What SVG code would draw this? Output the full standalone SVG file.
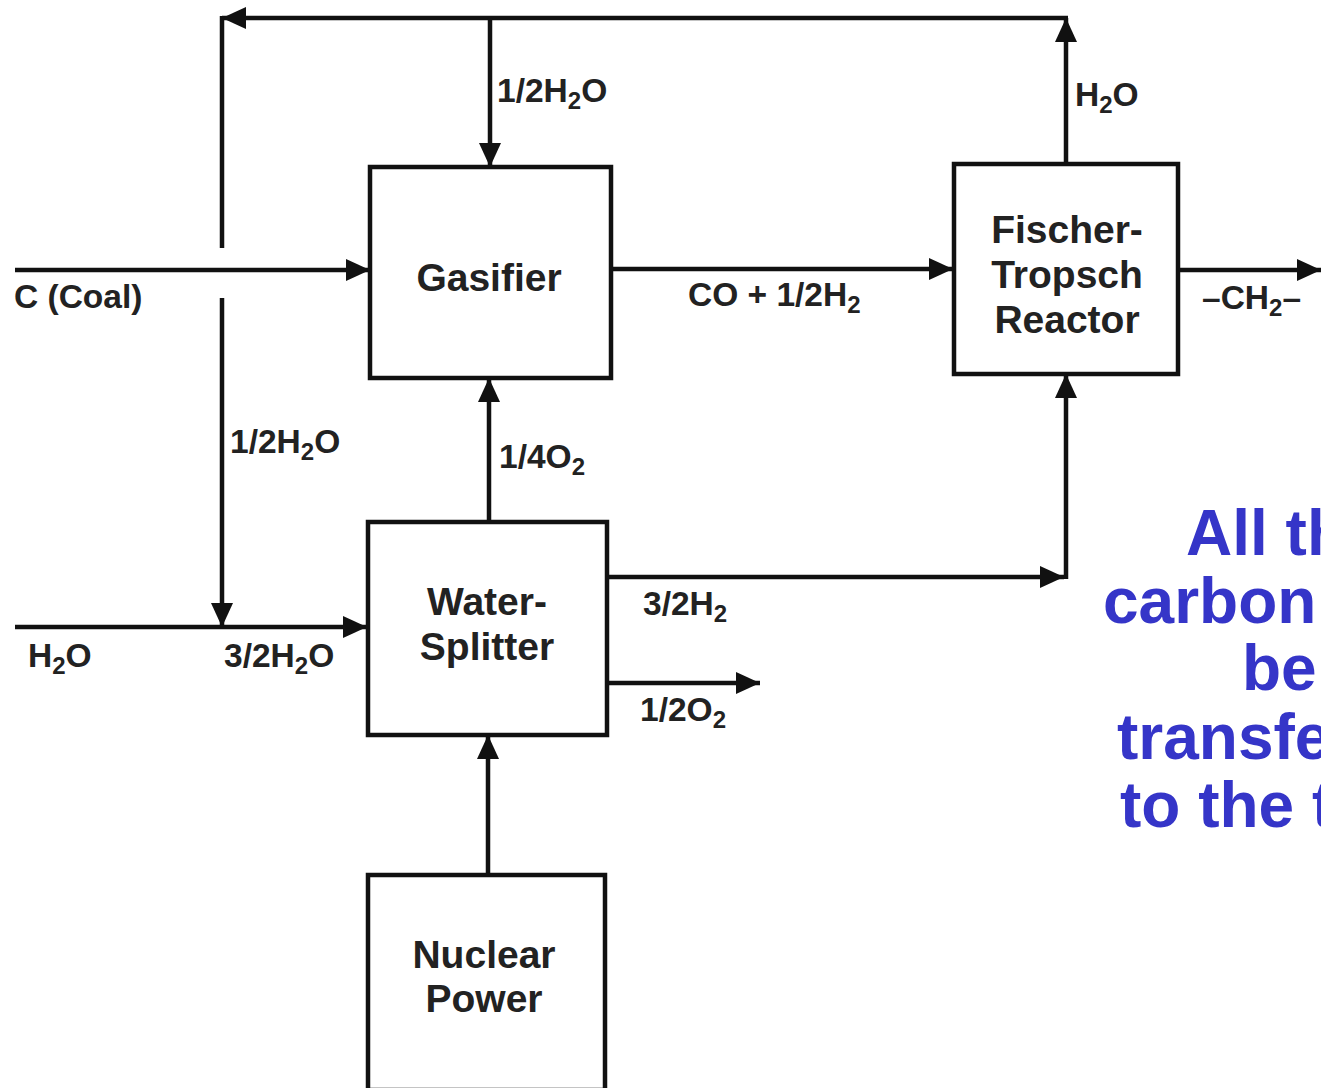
<svg xmlns="http://www.w3.org/2000/svg" width="1321" height="1088" viewBox="0 0 1321 1088">
<style>
.box{fill:#fff;stroke:#111;stroke-width:4.5}
.ln{fill:none;stroke:#111;stroke-width:4.5}
.bt{font-family:"Liberation Sans",Arial,sans-serif;font-weight:bold;font-size:39px;fill:#222;text-anchor:middle}
.lb{font-family:"Liberation Sans",Arial,sans-serif;font-weight:bold;font-size:33.5px;fill:#222}
.sb{font-size:24px}
.note{font-family:"Liberation Sans",Arial,sans-serif;font-weight:bold;font-size:64px;fill:#3535C8}
</style>
<defs>
<marker id="ah" markerUnits="userSpaceOnUse" viewBox="0 0 24 22" refX="24" refY="11" markerWidth="24" markerHeight="22" orient="auto">
<path d="M0,0 L24,11 L0,22 z" fill="#111"/>
</marker>
</defs>
<rect width="1321" height="1088" fill="#fff"/>
<g id="connectors">
<path class="ln" d="M1066,163 V18" marker-end="url(#ah)"/>
<path class="ln" d="M1068,18 H222" marker-end="url(#ah)"/>
<path class="ln" d="M222,16 V248"/>
<path class="ln" d="M490,18 V167" marker-end="url(#ah)"/>
<path class="ln" d="M222,298 V627" marker-end="url(#ah)"/>
<path class="ln" d="M15,270 H370" marker-end="url(#ah)"/>
<path class="ln" d="M607,269 H953" marker-end="url(#ah)"/>
<path class="ln" d="M1178,270 H1321" marker-end="url(#ah)"/>
<path class="ln" d="M489,522 V378" marker-end="url(#ah)"/>
<path class="ln" d="M607,577 H1064" marker-end="url(#ah)"/>
<path class="ln" d="M1066,579 V374" marker-end="url(#ah)"/>
<path class="ln" d="M607,683 H760" marker-end="url(#ah)"/>
<path class="ln" d="M15,627 H367" marker-end="url(#ah)"/>
<path class="ln" d="M488,874 V735" marker-end="url(#ah)"/>
<text class="lb" x="497" y="102">1/2H<tspan class="sb" dy="7">2</tspan><tspan dy="-7">O</tspan></text>
<text class="lb" x="1075" y="106">H<tspan class="sb" dy="7">2</tspan><tspan dy="-7">O</tspan></text>
<text class="lb" x="14" y="308">C (Coal)</text>
<text class="lb" x="688" y="306">CO + 1/2H<tspan class="sb" dy="7">2</tspan></text>
<text class="lb" x="1202" y="309">–CH<tspan class="sb" dy="7">2</tspan><tspan dy="-7">–</tspan></text>
<text class="lb" x="230" y="453">1/2H<tspan class="sb" dy="7">2</tspan><tspan dy="-7">O</tspan></text>
<text class="lb" x="499" y="468">1/4O<tspan class="sb" dy="7">2</tspan></text>
<text class="lb" x="643" y="615">3/2H<tspan class="sb" dy="7">2</tspan></text>
<text class="lb" x="640" y="721">1/2O<tspan class="sb" dy="7">2</tspan></text>
<text class="lb" x="28" y="667">H<tspan class="sb" dy="7">2</tspan><tspan dy="-7">O</tspan></text>
<text class="lb" x="224" y="667">3/2H<tspan class="sb" dy="7">2</tspan><tspan dy="-7">O</tspan></text>
</g>
<g id="gasifier">
<rect class="box" x="370" y="167" width="241" height="211"/>
<text class="bt" x="489" y="291">Gasifier</text>
</g>
<g id="fischer-tropsch">
<rect class="box" x="954" y="164" width="224" height="210"/>
<text class="bt" x="1067" y="243">Fischer-</text>
<text class="bt" x="1067" y="288">Tropsch</text>
<text class="bt" x="1067" y="333">Reactor</text>
</g>
<g id="water-splitter">
<rect class="box" x="368" y="522" width="239" height="213"/>
<text class="bt" x="487" y="615">Water-</text>
<text class="bt" x="487" y="660">Splitter</text>
</g>
<g id="nuclear-power">
<rect class="box" x="368" y="875" width="237" height="215"/>
<text class="bt" x="484" y="968">Nuclear</text>
<text class="bt" x="484" y="1012">Power</text>
</g>
<g id="note">
<text class="note" x="1186" y="555">All th</text>
<text class="note" x="1103" y="623">carbon</text>
<text class="note" x="1242" y="690">be</text>
<text class="note" x="1117" y="759">transfe</text>
<text class="note" x="1120" y="827">to the t</text>
</g>
</svg>
